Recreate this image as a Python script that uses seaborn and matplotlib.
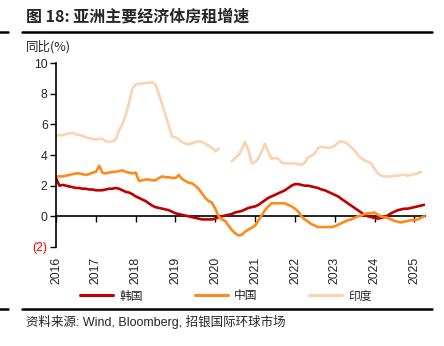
import numpy as np
import pandas as pd
import matplotlib
matplotlib.use("Agg")
import matplotlib.pyplot as plt
from matplotlib.lines import Line2D
import seaborn as sns

sns.set_style("white")
plt.rcParams['font.family'] = ['Liberation Sans', 'Noto Sans CJK SC', 'DejaVu Sans']

# ---------------- data (monthly, from Jan 2016) ----------------
korea = [2.5, 2.0, 2.05, 2.0, 1.95, 1.9, 1.85, 1.85, 1.8, 1.8, 1.75, 1.75,
         1.7, 1.7, 1.7, 1.75, 1.8, 1.8, 1.85, 1.8, 1.7, 1.6, 1.55, 1.45,
         1.3, 1.2, 1.1, 1.0, 0.85, 0.7, 0.6, 0.55, 0.5, 0.45, 0.4, 0.3,
         0.2, 0.15, 0.1, 0.05, 0.0, -0.05, -0.1, -0.15, -0.2, -0.2, -0.2, -0.2,
         -0.15, -0.05, 0.0, 0.05, 0.1, 0.15, 0.25, 0.3, 0.35, 0.45, 0.55, 0.6,
         0.65, 0.75, 0.9, 1.05, 1.2, 1.3, 1.4, 1.5, 1.6, 1.7, 1.85, 2.0,
         2.1, 2.1, 2.05, 2.0, 2.0, 1.95, 1.9, 1.85, 1.75, 1.7, 1.6, 1.5,
         1.4, 1.3, 1.15, 1.0, 0.85, 0.7, 0.55, 0.4, 0.25, 0.1, 0.0, -0.05,
         -0.1, -0.15, -0.1, -0.05, 0.05, 0.2, 0.3, 0.4, 0.45, 0.5, 0.5, 0.55,
         0.6, 0.65, 0.7, 0.75]

china = [2.6, 2.6, 2.6, 2.65, 2.7, 2.75, 2.8, 2.8, 2.75, 2.7, 2.75, 2.85,
         2.9, 3.3, 2.85, 2.8, 2.85, 2.9, 2.9, 2.95, 3.0, 2.9, 2.85, 2.8,
         2.85, 2.3, 2.35, 2.4, 2.4, 2.35, 2.35, 2.5, 2.6, 2.55, 2.55, 2.5,
         2.5, 2.7, 2.45, 2.3, 2.2, 2.15, 2.0, 1.8, 1.5, 1.2, 1.0, 0.9,
         0.5, 0.0, -0.2, -0.3, -0.6, -0.9, -1.1, -1.25, -1.2, -1.0, -0.85, -0.75,
         -0.6, -0.25, 0.05, 0.4, 0.65, 0.85, 0.85, 0.85, 0.85, 0.85, 0.75, 0.65,
         0.5, 0.3, 0.0, -0.2, -0.35, -0.5, -0.6, -0.7, -0.7, -0.7, -0.7, -0.7,
         -0.65, -0.55, -0.45, -0.35, -0.25, -0.2, -0.1, 0.0, 0.05, 0.15, 0.2, 0.2,
         0.25, 0.1, 0.0, -0.05, -0.1, -0.2, -0.3, -0.35, -0.4, -0.35, -0.3, -0.25,
         -0.25, -0.2, -0.1, 0.0]

india = [5.25, 5.3, 5.3, 5.35, 5.4, 5.45, 5.35, 5.3, 5.25, 5.15, 5.1, 5.05,
         5.0, 5.05, 5.05, 4.9, 4.85, 4.9, 5.0, 5.6, 6.0, 6.6, 7.4, 8.3,
         8.6, 8.65, 8.65, 8.7, 8.7, 8.75, 8.6, 8.0, 7.3, 6.6, 5.9, 5.2,
         5.15, 5.0, 4.85, 4.75, 4.7, 4.75, 4.85, 4.9, 4.85, 4.75, 4.6, 4.45,
         4.25, 4.4, np.nan, np.nan, np.nan, 3.6, 3.8, 4.0, 4.4, 4.85, 4.3, 3.45,
         3.55, 3.8, 4.2, 4.75, 4.2, 3.75, 3.8, 3.75, 3.5, 3.45, 3.45, 3.45,
         3.45, 3.4, 3.35, 3.5, 3.85, 3.95, 4.1, 4.45, 4.55, 4.5, 4.45, 4.5,
         4.6, 4.8, 4.9, 4.85, 4.7, 4.5, 4.3, 4.0, 3.8, 3.65, 3.55, 3.45,
         3.1, 2.8, 2.65, 2.6, 2.6, 2.6, 2.65, 2.65, 2.7, 2.7, 2.65, 2.7,
         2.75, 2.8, 2.9, np.nan]

series_names = ["韩国", "中国", "印度"]
colors = ["#C00000", "#FF8A1C", "#FAD3B3"]
year_ticks = list(range(2016, 2026))
y_ticks = [-2, 0, 2, 4, 6, 8, 10]
y_ticklabels = ["(2)", "0", "2", "4", "6", "8", "10"]

dates = pd.date_range("2016-01-01", periods=len(korea), freq="MS")

frames = []
for name, vals in zip(series_names, [korea, china, india]):
    v = pd.Series(vals, dtype=float)
    seg = v.isna().cumsum()
    df = pd.DataFrame({"date": dates, "value": v, "country": name, "seg": seg})
    frames.append(df.dropna())
data = pd.concat(frames, ignore_index=True)

# ---------------- figure ----------------
fig = plt.figure(figsize=(4.44, 3.46), dpi=100)
ax = fig.add_axes([56/444, 1-247/346, (425-56)/444, (247-63)/346])

sns.lineplot(data=data, x="date", y="value", hue="country", units="seg",
             estimator=None, palette=dict(zip(series_names, colors)),
             hue_order=series_names, linewidth=1.9, ax=ax, legend=False)

ax.set_ylim(-2, 10)
ax.set_xlim(pd.Timestamp("2016-01-01"), pd.Timestamp("2025-04-08"))
ax.set_xlabel("")
ax.set_ylabel("")

for s in ["top", "right", "bottom"]:
    ax.spines[s].set_visible(False)
ax.spines["left"].set_color("black")
ax.spines["left"].set_linewidth(1.2)

ax.set_yticks(y_ticks)
ax.set_yticklabels(y_ticklabels)
for lab in ax.get_yticklabels():
    if lab.get_text() == "(2)":
        lab.set_color("red")
ax.tick_params(axis="y", direction="out", length=4, width=1.0, left=True,
               labelsize=8.8, pad=2, color="black")

xt = [pd.Timestamp(f"{y}-01-01") for y in year_ticks]
ax.set_xticks(xt)
ax.set_xticklabels([str(y) for y in year_ticks], rotation=90)
ax.tick_params(axis="x", length=0, labelsize=8.8, pad=7)

# zero-line axis with year ticks
sec = ax.secondary_xaxis(2/12)
sec.set_xticks(xt)
sec.set_xticklabels([])
sec.tick_params(axis="x", direction="out", length=4, width=1.0, color="black")
sec.spines["bottom"].set_linewidth(1.2)
sec.spines["bottom"].set_color("black")

# ---------------- texts ----------------
fig.text(26/444, 1-17/346, "图 18: 亚洲主要经济体房租增速", fontsize=11.5,
         fontweight="bold", family=["Noto Sans CJK SC"], va="center", ha="left")
fig.text(26/444, 1-47/346, "同比(%)", fontsize=9, family=["Noto Sans CJK SC"],
         va="center", ha="left")
fig.text(26/444, 1-322/346, "资料来源: Wind, Bloomberg, 招银国际环球市场", fontsize=9,
         family=["Liberation Sans", "Noto Sans CJK SC"], va="center", ha="left")

# rules
fig.add_artist(Line2D([22/444, 432/444], [1-32/346, 1-32/346], color="black", lw=1.8))
fig.add_artist(Line2D([22/444, 432/444], [1-309/346, 1-309/346], color="black", lw=1.8))
fig.add_artist(Line2D([0, 8/444], [1-32/346, 1-32/346], color="black", lw=1.8))
fig.add_artist(Line2D([0, 8/444], [1-309/346, 1-309/346], color="black", lw=1.8))

# legend
handles = [Line2D([], [], color=c, lw=2.2) for c in colors]
leg = fig.legend(handles, series_names, loc="center", bbox_to_anchor=(226/444, 1-296/346),
                 ncol=3, frameon=False, handlelength=2.8,
                 columnspacing=4.4, handletextpad=0.5,
                 prop={"family": ["Noto Sans CJK SC"], "size": 8.5})

fig.savefig("out.png", dpi=100)
